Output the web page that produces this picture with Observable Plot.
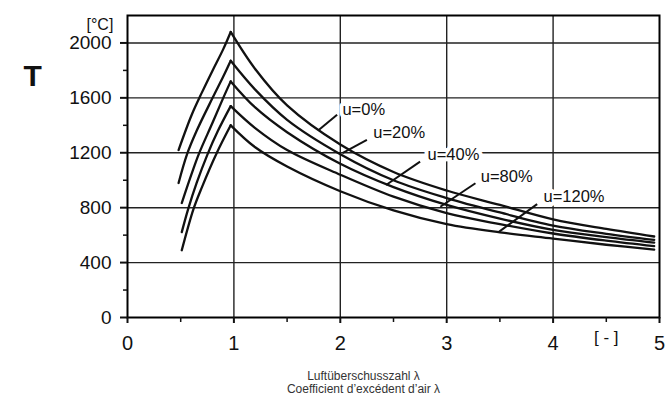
<!DOCTYPE html>
<html><head><meta charset="utf-8">
<script src="https://cdn.jsdelivr.net/npm/d3@7"></script>
<script src="https://cdn.jsdelivr.net/npm/@observablehq/plot@0.6"></script>
<style>
body{margin:0;background:#fff;font-family:"Liberation Sans",Arial,Helvetica,sans-serif;}
#cap{width:669px;box-sizing:border-box;padding-left:58px;text-align:center;font-size:12px;line-height:12.5px;color:#333;}
</style></head><body>
<div id="chart"></div>
<div id="cap"><div>Luftüberschusszahl λ</div><div>Coefficient d’excédent d’air λ</div></div>
<script>
// Series names
const seriesNames = ["u=0%", "u=20%", "u=40%", "u=80%", "u=120%"];

// Rising branches (λ, T) per series
const riseLambdaU0 = [0.48, 0.6, 0.7, 0.8, 0.9, 0.97];
const riseTU0      = [1220, 1470, 1640, 1800, 1955, 2080];
const riseLambdaU20 = [0.48, 0.56, 0.65, 0.8, 0.9, 0.97];
const riseTU20      = [980, 1190, 1360, 1600, 1755, 1870];
const riseLambdaU40 = [0.51, 0.6, 0.67, 0.8, 0.9, 0.97];
const riseTU40      = [834, 1040, 1190, 1420, 1600, 1720];
const riseLambdaU80 = [0.51, 0.57, 0.65, 0.75, 0.85, 0.97];
const riseTU80      = [622, 790, 980, 1185, 1360, 1540];
const riseLambdaU120 = [0.51, 0.62, 0.7, 0.84, 0.97];
const riseTU120      = [490, 790, 950, 1200, 1400];

// Falling branches share one λ grid
const fallLambda = [0.97, 1.2, 1.5, 2, 2.5, 3, 3.5, 4, 4.5, 4.95];
const fallTU0   = [2080, 1810, 1545, 1260, 1060, 925, 820, 715, 645, 590];
const fallTU20  = [1870, 1660, 1440, 1190, 1000, 870, 765, 670, 610, 565];
const fallTU40  = [1720, 1530, 1350, 1120, 950, 820, 720, 638, 585, 545];
const fallTU80  = [1540, 1380, 1220, 1040, 880, 760, 680, 612, 560, 520];
const fallTU120 = [1400, 1240, 1100, 920, 780, 680, 620, 575, 530, 495];

// Label anchors (text start) and leader lines
const labelLambda = [2.02, 2.31, 2.82, 3.32, 3.91];
const labelT      = [1514, 1345, 1185, 1026, 877];
const leaderLambda1 = [1.97, 2.25, 2.75, 3.27, 3.85];
const leaderT1      = [1477, 1294, 1136, 978, 826];
const leaderLambda2 = [1.80, 2.02, 2.43, 2.94, 3.49];
const leaderT2      = [1367, 1197, 965, 807, 624];

// Axis ticks
const xTicks = [0, 1, 2, 3, 4, 5];
const xMinorTicks = [0.5, 1.5, 2.5, 3.5, 4.5];
const xGrid = [1, 2, 3, 4];
const yTicks = [0, 400, 800, 1200, 1600, 2000];
const yMinorTicks = [200, 600, 1000, 1400, 1800];
const yGrid = [400, 800, 1200, 1600, 2000];
const xUnitAt = [4.5];
const xUnitLabel = ["[ - ]"];
const yUnitLabel = ["[°C]"];
const yTitle = ["T"];

const riseL = [riseLambdaU0, riseLambdaU20, riseLambdaU40, riseLambdaU80, riseLambdaU120];
const riseT = [riseTU0, riseTU20, riseTU40, riseTU80, riseTU120];
const fallT = [fallTU0, fallTU20, fallTU40, fallTU80, fallTU120];

const riseRows = [], fallRows = [];
seriesNames.forEach((s, i) => {
  riseL[i].forEach((l, j) => riseRows.push({seg: s, lambda: l, T: riseT[i][j]}));
  fallLambda.forEach((l, j) => fallRows.push({seg: s, lambda: l, T: fallT[i][j]}));
});
const labels = seriesNames.map((s, i) => ({text: s, lambda: labelLambda[i], T: labelT[i]}));
const leaders = seriesNames.map((s, i) => ({x1: leaderLambda1[i], y1: leaderT1[i], x2: leaderLambda2[i], y2: leaderT2[i]}));

const font = "'Liberation Sans', Arial, Helvetica, sans-serif";
const lineStyle = {x: "lambda", y: "T", z: "seg", curve: "catmull-rom", stroke: "#111", strokeWidth: 2.3};
const chart = Plot.plot({
  width: 669, height: 370,
  marginLeft: 127, marginRight: 10, marginTop: 15, marginBottom: 53,
  x: {domain: [0, 5], label: null},
  y: {domain: [0, 2200], label: null},
  style: {fontFamily: font, color: "#111", background: "#fff"},
  marks: [
    Plot.gridY(yGrid, {stroke: "#222", strokeOpacity: 1, strokeWidth: 1.4}),
    Plot.gridX(xGrid, {stroke: "#222", strokeOpacity: 1, strokeWidth: 1.4}),
    Plot.line(riseRows, lineStyle),
    Plot.line(fallRows, lineStyle),
    Plot.link(leaders, {x1: "x1", y1: "y1", x2: "x2", y2: "y2", stroke: "#111", strokeWidth: 2}),
    Plot.text(labels, {x: "lambda", y: "T", text: "text", textAnchor: "start", fontSize: 16.5, fill: "#111",
      stroke: "white", strokeWidth: 8, paintOrder: "stroke", strokeLinejoin: "round"}),
    Plot.frame({stroke: "#000", strokeWidth: 2}),
    Plot.axisY(yTicks, {tickSize: 7, tickPadding: 9, fontSize: 19, label: null, strokeWidth: 2, tickFormat: d => String(d)}),
    Plot.axisY(yMinorTicks, {tickSize: 4, tickFormat: () => "", label: null, strokeWidth: 1.5}),
    Plot.axisX(xTicks, {tickSize: 6, tickPadding: 12, fontSize: 20, label: null, strokeWidth: 2, tickFormat: d => String(d)}),
    Plot.axisX(xMinorTicks, {tickSize: 5, tickFormat: () => "", label: null, strokeWidth: 1.5}),
    Plot.text(xUnitAt, {x: d => d, text: () => xUnitLabel[0], frameAnchor: "bottom", dy: 25, fontSize: 17}),
    Plot.text(yUnitLabel, {frameAnchor: "top-left", dx: -41, dy: 3, fontSize: 16}),
    Plot.text(yTitle, {frameAnchor: "top-left", dx: -104, dy: 49, fontSize: 30, fontWeight: "bold"})
  ]
});
document.getElementById("chart").appendChild(chart);
</script></body></html>
